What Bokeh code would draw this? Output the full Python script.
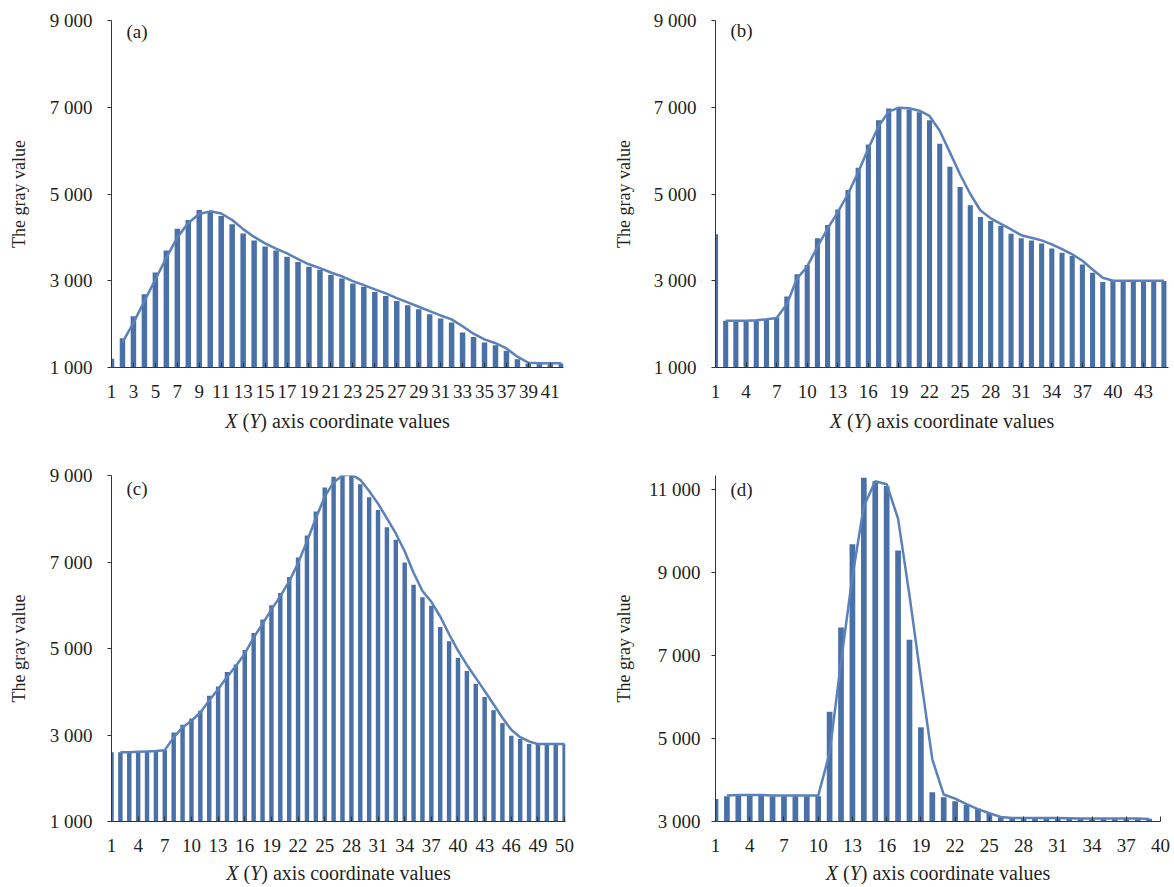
from bokeh.plotting import figure
from bokeh.layouts import column, row
from bokeh.models import FixedTicker, Label, Range1d
from bokeh.embed import file_html
from bokeh.resources import INLINE

FONT = "Liberation Serif"
TXT = "#231f20"
BAR = "#4a70a8"
LINE = "#5b80ba"

# ---------------- data ----------------
a_cats = list(range(1, 43))
a_bars = [1200, 1675, 2180, 2690, 3190, 3700, 4200, 4400, 4630, 4590,
          4490, 4300, 4090, 3930, 3790, 3700, 3555, 3430, 3325, 3255,
          3135, 3050, 2935, 2860, 2740, 2650, 2535, 2435, 2345, 2230,
          2130, 2035, 1805, 1705, 1575, 1515, 1385, 1190, 1090, 1090,
          1115, 1090]
a_line = [1580, 2030, 2530, 3030, 3530, 4000, 4330, 4540, 4600, 4550,
          4400, 4190, 4010, 3860, 3740, 3630, 3500, 3380, 3290, 3190,
          3100, 2990, 2900, 2800, 2710, 2600, 2500, 2400, 2300, 2200,
          2110, 1950, 1780, 1650, 1560, 1440, 1250, 1110, 1100, 1100,
          1100]
a_xticks = list(range(1, 42, 2))

b_cats = list(range(1, 46))
b_bars = [4070, 2075, 2075, 2075, 2090, 2110, 2150, 2635, 3150, 3365,
          3980, 4285, 4645, 5090, 5605, 6140, 6700, 6970, 6985, 6950,
          6885, 6700, 6160, 5630, 5160, 4740, 4470, 4375, 4260, 4085,
          3980, 3930, 3860, 3745, 3645, 3570, 3375, 3185, 2970, 2995,
          2995, 2995, 2995, 2995, 2995]
b_line = [2075, 2075, 2080, 2090, 2110, 2140, 2460, 3050, 3330, 3780,
          4200, 4580, 5000, 5500, 6050, 6560, 6900, 6990, 6975, 6920,
          6800, 6460, 5960, 5450, 5000, 4620, 4440, 4310, 4185, 4050,
          3990, 3930, 3840, 3730, 3610, 3460, 3260, 3070, 3000, 3000,
          3000, 3000, 3000, 3000]
b_xticks = list(range(1, 44, 3))

c_cats = list(range(1, 53))
c_bars = [2600, 2600, 2600, 2610, 2620, 2635, 2650, 3060, 3235, 3380,
          3560, 3905, 4120, 4455, 4630, 4965, 5360, 5670, 6000, 6285,
          6655, 7105, 7610, 8165, 8725, 8970, 9010, 9025, 8795, 8495,
          8205, 7805, 7515, 6990, 6475, 6185, 5990, 5500, 5170, 4785,
          4480, 4185, 3880, 3575, 3275, 2980, 2905, 2790, 2790, 2790,
          2790, 2790]
c_line = [2600, 2600, 2610, 2620, 2630, 2650, 2945, 3175, 3330, 3520,
          3800, 4060, 4340, 4595, 4880, 5250, 5570, 5900, 6210, 6550,
          6975, 7475, 8010, 8510, 8840, 9000, 9025, 8900, 8640, 8350,
          8010, 7660, 7250, 6750, 6330, 6080, 5740, 5330, 4950, 4620,
          4320, 4020, 3710, 3400, 3120, 2950, 2850, 2790, 2790, 2790,
          2790]
c_xticks = list(range(1, 50, 3)) + [52]
c_xtick_labels = {52: "50"}

d_cats = list(range(1, 40))
d_bars = [3545, 3610, 3640, 3640, 3640, 3610, 3610, 3610, 3610, 3610,
          5645, 7675, 9680, 11285, 11200, 11085, 9535, 7380, 5270, 3705,
          3585, 3490, 3400, 3305, 3200, 3105, 3080, 3080, 3085, 3085,
          3080, 3075, 3070, 3070, 3075, 3070, 3070, 3065, 3065]
d_line = [3625, 3640, 3640, 3640, 3625, 3625, 3625, 3625, 3625, 4650,
          6850, 8900, 10600, 11200, 11130, 10300, 8450, 6450, 4500, 3650,
          3550, 3420, 3300, 3200, 3110, 3085, 3085, 3085, 3085, 3085,
          3080, 3075, 3075, 3075, 3075, 3075, 3070, 3060]
d_xticks = list(range(1, 41, 3))

ab_yticks = [1000, 3000, 5000, 7000, 9000]
d_yticks = [3000, 5000, 7000, 9000, 11000]

# Times-compatible advance widths (per 1000 em) for the x-axis title
W_NORMAL = {' ': 250, '(': 333, ')': 333, 'a': 444, 'c': 444, 'd': 500, 'e': 444,
            'i': 278, 'l': 278, 'n': 500, 'o': 500, 'r': 333, 's': 389, 't': 278,
            'u': 500, 'v': 500, 'x': 500}
W_ITALIC = {'X': 611, 'Y': 556, ' ': 250}
TITLE_PIECES = [("X ", "italic"), ("(", "normal"), ("Y", "italic"),
                (") axis coordinate values", "normal")]
FS = 19
TFS = 20


def piece_width(text, style):
    tab = W_ITALIC if style == "italic" else W_NORMAL
    return sum(tab.get(ch, 500) for ch in text) / 1000.0 * TFS


def fmt(v):
    return f"{v:,}".replace(",", " ")


def make_panel(letter, cats, bars, line_vals, y0, y1, yticks, xticks, x_end,
               width, height, bl, br, bt, bb, letter_dy,
               ylab_standoff, ytick_standoff, xtick_labels=None):
    p = figure(width=width, height=height, output_backend="svg",
               toolbar_location=None, x_range=Range1d(1, x_end),
               y_range=Range1d(y0, y1), min_border_left=bl, min_border_right=br,
               min_border_top=bt, min_border_bottom=bb)
    p.outline_line_color = None
    p.grid.visible = False
    p.background_fill_color = "white"
    p.border_fill_color = "white"

    p.vbar(x=cats, top=bars, bottom=y0, width=0.5, fill_color=BAR,
           line_color=None)
    p.line(x=cats[1:], y=line_vals, line_color=LINE, line_width=2.5)

    xa = p.xaxis[0]
    xa.ticker = FixedTicker(ticks=xticks)
    if xtick_labels:
        xa.major_label_overrides = xtick_labels
    xa.major_tick_in = 5
    xa.major_tick_out = 0
    xa.minor_tick_line_color = None
    xa.axis_line_color = "#333333"
    xa.major_tick_line_color = "#333333"
    xa.major_label_text_font = FONT
    xa.major_label_text_font_size = f"{FS}px"
    xa.major_label_text_color = TXT
    xa.major_label_standoff = 17

    ya = p.yaxis[0]
    ya.ticker = FixedTicker(ticks=yticks)
    ya.major_label_overrides = {t: fmt(t) for t in yticks}
    ya.major_tick_in = 0
    ya.major_tick_out = 4
    ya.minor_tick_line_color = None
    ya.axis_line_color = "#333333"
    ya.major_tick_line_color = "#333333"
    ya.major_label_text_font = FONT
    ya.major_label_text_font_size = f"{FS}px"
    ya.major_label_text_color = TXT
    ya.major_label_standoff = ytick_standoff
    ya.axis_label = "The gray value"
    ya.axis_label_text_font = FONT
    ya.axis_label_text_font_style = "normal"
    ya.axis_label_text_font_size = "18px"
    ya.axis_label_text_color = TXT
    ya.axis_label_standoff = ylab_standoff

    fh = height - bt - bb
    p.add_layout(Label(x=15, y=fh - letter_dy, x_units="screen", y_units="screen",
                       text=f"({letter})", text_font=FONT, text_font_size=f"{FS}px",
                       text_color=TXT, text_baseline="top", text_align="left"))
    return p


def make_title(width, height, bl, br, y_mid):
    t = figure(width=width, height=height, output_backend="svg",
               toolbar_location=None, x_axis_location=None, y_axis_location=None,
               min_border_left=bl, min_border_right=br, min_border_top=0,
               min_border_bottom=0, x_range=Range1d(0, 1), y_range=Range1d(0, 1))
    t.outline_line_color = None
    t.grid.visible = False
    fw = width - bl - br
    total = sum(piece_width(s, st) for s, st in TITLE_PIECES)
    x = fw / 2.0 - total / 2.0
    for s, st in TITLE_PIECES:
        t.add_layout(Label(x=x, y=y_mid, x_units="screen", y_units="screen",
                           text=s, text_font=FONT, text_font_style=st,
                           text_font_size=f"{TFS}px", text_color=TXT,
                           text_baseline="middle", text_align="left"))
        x += piece_width(s, st)
    return t


pa = make_panel("a", a_cats, a_bars, a_line, 1000, 9000, ab_yticks, a_xticks, 42.2,
                600, 407, 111, 37, 20, 40, 0, 18, 15)
pb = make_panel("b", b_cats, b_bars, b_line, 1000, 9000, ab_yticks, b_xticks, 45.45,
                574, 407, 115, 6, 19, 40, 0, 17, 15)
pc = make_panel("c", c_cats, c_bars, c_line, 1000, 9000, ab_yticks, c_xticks, 52.1,
                600, 424, 111, 35, 37, 40, 3, 18, 15, c_xtick_labels)
pd = make_panel("d", d_cats, d_bars, d_line, 3000, 11340, d_yticks, d_xticks, 40,
                574, 424, 115, 14, 38, 40, 3, 12, 11)

ta = make_title(600, 30, 111, 37, 17)
tb = make_title(574, 30, 115, 6, 17)
tc = make_title(600, 26, 111, 35, 15)
td = make_title(574, 26, 115, 14, 15)

layout = column(row(pa, pb), row(ta, tb), row(pc, pd), row(tc, td))
open("out.html", "w").write(file_html(layout, INLINE))
